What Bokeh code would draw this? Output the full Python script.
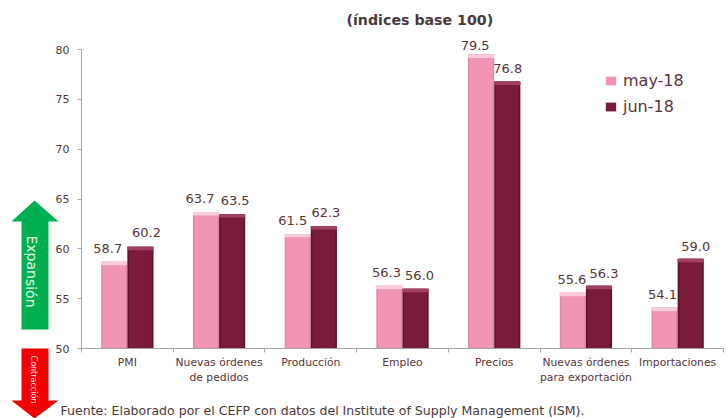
from bokeh.plotting import figure
from bokeh.embed import file_html
from bokeh.resources import INLINE
from bokeh.models import (ColumnDataSource, Range1d, FixedTicker, Label, PolyAnnotation,
                          Legend, LegendItem)
from bokeh.core.properties import value

categories = ["PMI", "Nuevas órdenes\nde pedidos", "Producción", "Empleo", "Precios",
              "Nuevas órdenes\npara exportación", "Importaciones"]
may_18 = [58.7, 63.7, 61.5, 56.3, 79.5, 55.6, 54.1]
jun_18 = [60.2, 63.5, 62.3, 56.0, 76.8, 56.3, 59.0]
y_ticks = [50, 55, 60, 65, 70, 75, 80]
title_text = "(índices base 100)"
source_text = "Fuente: Elaborado por el CEFP con datos del Institute of Supply Management (ISM)."

FONT = "DejaVu Sans"
TXT = "#5A3438"
PINK, PINK_TOP, PINK_EDGE = "#F295B4", "#FBCBDC", "#E088A6"
WINE, WINE_TOP, WINE_EDGE = "#7A1B3A", "#A3405F", "#5E1229"
BAR_W = 0.285
may_off = [-6.5, -6, -5, -3, -6, -1, -2]
jun_off = [6, 3, 2, 4, 0.5, 5, 5]
may_yoff = [-9, -9, -9, -9, -4, -9, -9]
jun_yoff = [-10, -9, -9, -9, -8, -8, -8]

W, H = 728, 418
# The plot frame fills the canvas on the left and below, so that the arrows and the
# source line can sit outside the axes; the axes are pinned at x=0 and y=50.
LEFT, RIGHT_PAD, TOP, Y50, Y80 = 81, 5, 29, 348, 49
unit_x = (W - RIGHT_PAD - LEFT) / len(categories)
unit_y = (Y50 - Y80) / 30
p = figure(width=W, height=H, output_backend="svg", toolbar_location=None,
           x_range=Range1d(-LEFT / unit_x, len(categories) + RIGHT_PAD / unit_x),
           y_range=Range1d(50 - (H - Y50) / unit_y, 50 + (Y50 - TOP) / unit_y),
           min_border_left=0, min_border_right=0, min_border_top=TOP, min_border_bottom=0,
           background_fill_color="white", border_fill_color="white",
           title=title_text)
p.outline_line_color = None
p.grid.visible = False
p.title.align = "left"
p.title.offset = 346
p.title.standoff = 3
p.title.text_font = FONT
p.title.text_font_size = "14.2px"
p.title.text_font_style = "bold"
p.title.text_color = "#4A3A3A"

xs = [i + 0.5 for i in range(len(categories))]
x_may = [x - BAR_W / 2 for x in xs]
x_jun = [x + BAR_W / 2 for x in xs]
src = ColumnDataSource(dict(x_may=x_may, x_jun=x_jun, may=may_18, jun=jun_18,
                            may_top=[v - 0.35 for v in may_18], jun_top=[v - 0.35 for v in jun_18],
                            may_lab=[f"{v:.1f}" for v in may_18], jun_lab=[f"{v:.1f}" for v in jun_18],
                            may_off=may_off, jun_off=jun_off, may_yoff=may_yoff, jun_yoff=jun_yoff))

main = []
for xc, v, vt, fill, top, edge in (("x_may", "may", "may_top", PINK, PINK_TOP, PINK_EDGE),
                                   ("x_jun", "jun", "jun_top", WINE, WINE_TOP, WINE_EDGE)):
    p.vbar(x=xc, top=v, bottom=50, width=BAR_W, source=src, fill_color=edge, line_color=None)
    main.append(p.vbar(x=xc, top=v, bottom=50, width=BAR_W - 0.035, source=src, fill_color=fill, line_color=None))
    p.vbar(x=xc, top=v, bottom=vt, width=BAR_W, source=src, fill_color=top, line_color=None)

for xc, v, lab, off, yoff in (("x_may", "may", "may_lab", "may_off", "may_yoff"),
                              ("x_jun", "jun", "jun_lab", "jun_off", "jun_yoff")):
    p.text(x=xc, y=v, text=lab, source=src, text_align="center", text_baseline="bottom",
           x_offset=off, y_offset=yoff, text_font=value(FONT), text_font_size="13px", text_color=TXT)

# axes
p.xaxis.fixed_location = 50
p.xaxis.bounds = (0, len(categories))
p.xaxis.ticker = FixedTicker(ticks=xs, minor_ticks=list(range(len(categories) + 1)))
p.xaxis.major_label_overrides = {x: c for x, c in zip(xs, categories)}
p.xaxis.major_tick_line_color = None
p.xaxis.minor_tick_line_color = "#A8A8A8"
p.xaxis.minor_tick_out = 4
p.xaxis.minor_tick_in = 0
p.xaxis.axis_line_color = "#A8A8A8"
p.xaxis.major_label_text_font = FONT
p.xaxis.major_label_text_font_size = "10.8px"
p.xaxis.major_label_text_color = TXT
p.xaxis.major_label_standoff = 1

p.yaxis.fixed_location = 0
p.yaxis.ticker = FixedTicker(ticks=y_ticks)
p.yaxis.bounds = (50, 80)
p.yaxis.minor_tick_line_color = None
p.yaxis.major_tick_line_color = "#A8A8A8"
p.yaxis.major_tick_out = 4
p.yaxis.major_tick_in = 0
p.yaxis.axis_line_color = "#A8A8A8"
p.yaxis.major_label_text_font = FONT
p.yaxis.major_label_text_font_size = "11px"
p.yaxis.major_label_text_color = TXT
p.yaxis.major_label_standoff = 8

legend = Legend(items=[LegendItem(label="may-18", renderers=[main[0]]),
                       LegendItem(label="jun-18", renderers=[main[1]])],
                location=(604, H - 116), background_fill_alpha=0, border_line_color=None,
                label_text_font=FONT, label_text_font_size="16px", label_text_color=TXT,
                glyph_width=13, glyph_height=11, spacing=7, padding=0, margin=0,
                label_standoff=6)
p.add_layout(legend, "center")

# decorative arrows: x from the canvas left, y from the canvas top
def arrow(points, color):
    p.add_layout(PolyAnnotation(xs=[a for a, _ in points], ys=[H - b for _, b in points],
                                xs_units="screen", ys_units="screen",
                                fill_color=color, fill_alpha=1, line_color=None))

arrow([(34, 200), (58, 221), (48, 221), (48, 329), (21, 329), (21, 221), (11, 221)], "#00B050")
arrow([(21, 348), (48, 348), (48, 400), (58, 400), (34, 418), (11, 400), (21, 400)], "#F00000")

def label(text, x, y, size, color, angle=0, align="left", baseline="middle"):
    p.add_layout(Label(x=x, y=H - y, x_units="screen", y_units="screen", text=text,
                       text_font=FONT, text_font_size=size, text_color=color, angle=angle,
                       text_align=align, text_baseline=baseline))

label("Expansión", 31, 271, "14px", "#E8F8EE", angle=-1.5708, align="center")
label("Contracción", 33, 379, "8px", "#FFE8E8", angle=-1.5708, align="center")
label(source_text, 60, 410, "12.55px", "#4A3A3A")

open("out.html", "w").write(file_html(p, INLINE))
